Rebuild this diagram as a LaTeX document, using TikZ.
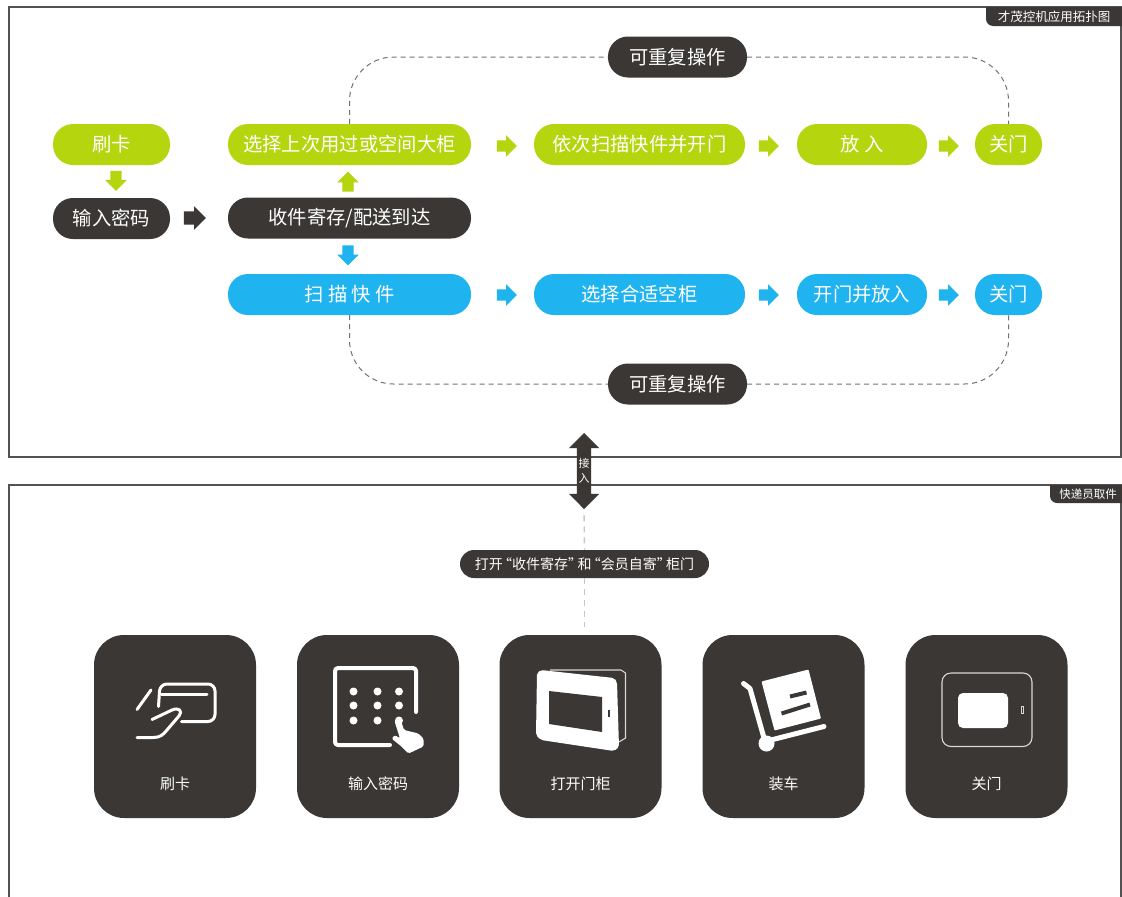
\documentclass[tikz,border=0pt]{standalone}
\usepackage{fontspec}
\setmainfont{Noto Sans CJK SC}
\usetikzlibrary{positioning, shapes.arrows}

\definecolor{limeg}{HTML}{B5D50F}
\definecolor{skyb}{HTML}{1FB4F0}
\definecolor{darkg}{HTML}{3A3735}

\begin{document}
\begin{tikzpicture}[x=1pt, y=-1pt]
	\tikzset{
		panel/.style={draw=black!68, line width=1.4pt},
		pill/.style={rounded corners=20pt, minimum height=41pt, inner sep=0pt, text=white, font=\fontsize{19.3}{21}\selectfont},
		limepill/.style={pill, fill=limeg},
		skypill/.style={pill, fill=skyb},
		darkpill/.style={pill, fill=darkg},
		blockarrow/.style={single arrow, single arrow head extend=5pt, single arrow head indent=0pt, inner sep=5.5pt, minimum height=20pt, minimum width=0pt},
		limearrow/.style={blockarrow, fill=limeg},
		skyarrow/.style={blockarrow, fill=skyb},
		darkarrow/.style={blockarrow, fill=darkg, inner sep=6.5pt, minimum height=22pt},
		repeatline/.style={draw=black!55, line width=1pt, dash pattern=on 5pt off 4pt, rounded corners=44pt},
		lightdash/.style={draw=black!22, line width=1.4pt, dash pattern=on 6pt off 5pt},
		iconbox/.style={fill=darkg, rounded corners=30pt, minimum width=162pt, minimum height=183pt, inner sep=0pt},
		iconlabel/.style={text=white, inner sep=0pt, font=\fontsize{15}{17}\selectfont},
		tabtext/.style={text=white, inner sep=0pt},
		iconline/.style={draw=white, line width=3pt, line cap=round, line join=round},
		thinline/.style={draw=white!85!black, line width=1.1pt}
	}

	\useasboundingbox (0,0) rectangle (1122,897);
	\fill[white] (0,0) rectangle (1122,897);

	\draw[panel] (9,7) rectangle (1121,457);
	\draw[panel] (9,897) -- (9,485) -- (1121,485) -- (1121,897);
	\fill[darkg, rounded corners=7pt] (986,7) -- (986,26) [sharp corners] -- (1122,26) -- (1122,7) -- cycle;
	\fill[darkg, rounded corners=7pt] (1050,485) -- (1050,503) [sharp corners] -- (1122,503) -- (1122,485) -- cycle;
	\node[tabtext, font=\fontsize{12.5}{14}\selectfont] (toptab) at (1054,16.5) {才茂控机应用拓扑图};
	\node[tabtext, font=\fontsize{11.5}{13}\selectfont] (lowtab) at (1088,494) {快递员取件};

	\node[limepill, minimum width=117pt] (swipe) at (111.5,144.5) {刷卡};
	\node[darkpill, minimum width=117pt] (code) at (111.5,218.5) {输入密码};
	\node[limepill, minimum width=243pt] (pick) at (349.5,144.5) {选择上次用过或空间大柜};
	\node[darkpill, minimum width=243pt] (arrive) at (349.5,218) {收件寄存/配送到达};
	\node[skypill, minimum width=243pt] (scan) at (349.5,294.5) {扫 描 快 件};

	\node[limepill, minimum width=211pt] (open) at (639.5,144.5) {依次扫描快件并开门};
	\node[limepill, minimum width=130pt] (put) at (862,144.5) {放 入};
	\node[limepill, minimum width=67pt] (shut) at (1008.5,144.5) {关门};
	\node[skypill, minimum width=211pt] (choose) at (639.5,294.5) {选择合适空柜};
	\node[skypill, minimum width=130pt] (load) at (862,294.5) {开门并放入};
	\node[skypill, minimum width=67pt] (close) at (1008.5,294.5) {关门};

	\node[darkpill, minimum width=139pt] (againtop) at (677.5,57) {可重复操作};
	\node[darkpill, minimum width=139pt] (againlow) at (677.5,384) {可重复操作};

	\draw[repeatline] (pick.north) |- (againtop.west);
	\draw[repeatline] (againtop.east) -| (shut.north);
	\draw[repeatline] (scan.south) |- (againlow.west);
	\draw[repeatline] (againlow.east) -| (close.south);

	\node[limearrow, shape border rotate=270] (a1) at (116,178) {};
	\node[limearrow, shape border rotate=90] (a2) at (348,184.5) {};
	\node[skyarrow, shape border rotate=270] (a3) at (348,252.5) {};
	\node[darkarrow] (a4) at (191.5,218) {};
	\foreach \ax/\nm in {504/b1, 766/b2, 946/b3} {
		\node[limearrow] (\nm) at (\ax,146) {};
	}
	\foreach \ax/\nm in {504/c1, 766/c2, 946/c3} {
		\node[skyarrow] (\nm) at (\ax,295) {};
	}

	\node[double arrow, double arrow head extend=8pt, double arrow head indent=0pt, inner sep=7pt, minimum width=0pt, minimum height=76pt, shape border rotate=90, fill=darkg] (link) at (584,471) {};
	\node[tabtext, align=center, font=\fontsize{11}{15}\selectfont] (linktext) at (link) {接\\入};

	\node[darkpill, rounded corners=14pt, minimum width=249pt, minimum height=28pt, font=\fontsize{14}{16}\selectfont] (doors) at (584.5,564) {打开\kern-4.7pt“收件寄存”\kern-4.7pt和\kern-4.7pt“会员自寄”\kern-4.7pt柜门};

	\foreach \cx/\nm/\txt in {175/cardbox/刷卡, 378/keybox/输入密码, 580.5/doorbox/打开门柜, 783.5/cartbox/装车, 986.5/shutbox/关门} {
		\node[iconbox] (\nm) at (\cx,726.5) {};
		\node[iconlabel] (\nm text) at (\cx,783.5) {\txt};
	}

	\draw[lightdash, shorten <=6pt] (link.south) -- (doors.north);
	\draw[lightdash, shorten >=8pt] (doors.south) -- (doors.south |- doorbox.north);

	% card
	\draw[iconline, rounded corners=7pt] (181.5,721.5) -- (215,721.5) -- (215,684) -- (160,684) [sharp corners] -- (158.5,706.5);
	\draw[iconline] (161.5,694) -- (207,694);
	\draw[iconline] (151,690) -- (137,709.5);
	\draw[iconline] (152,719.5) -- (172,710) .. controls (179,707) and (183,711) .. (179,716) -- (167,730) .. controls (163,735) and (160,737.5) .. (153,737.5) -- (137,737.5);

	% keypad
	\draw[iconline, line width=4pt, rounded corners=3pt] (416,712) -- (416,668) -- (335,668) -- (335,745) -- (390,745);
	\foreach \kx in {353.5, 377.5, 399} {
		\foreach \ky in {691.5, 705.5, 720.5} {
			\fill[white] (\kx,\ky) circle (4pt);
		}
	}
	\fill[white, rounded corners=1.5pt] (394.5,721) -- (400,717.5) -- (404,730) -- (418.5,733.5) -- (423.5,738.5) -- (423.5,746.5) -- (408.5,753.5) -- (401.5,746.5) -- (391.5,738.5) -- (395,735) -- (400,738.5) -- cycle;

	% open door
	\draw[thinline] (550,670) -- (621,670) -- (625.5,673) -- (625.5,738) -- (619,742);
	\fill[white, rounded corners=2pt] (537,673) -- (541,670) -- (614,678) -- (617,682) -- (619,747) -- (614,751) -- (541,740) -- (536,735) -- cycle;
	\fill[darkg] (549,691) -- (602,697) -- (602,732) -- (549,724) -- cycle;
	\fill[darkg] (608,710) rectangle (610,717);

	% cart
	\fill[white, rounded corners=1pt] (761.5,681.5) -- (808.5,669.5) -- (821,718.5) -- (774.5,730.5) -- cycle;
	\draw[darkg, line width=4pt] (790,696.5) -- (806.5,692.5);
	\draw[darkg, line width=4pt] (781.5,713.5) -- (810,704.5);
	\draw[iconline, line width=5pt] (743.5,683.5) -- (750,688.5) -- (765,741.5) -- (824,726.5);
	\fill[white] (766.5,743.5) circle (8pt);

	% closed door
	\draw[thinline, rounded corners=9pt] (942,673) rectangle (1032,746.5);
	\fill[white, rounded corners=5pt] (958,693) rectangle (1008,728);
	\draw[thinline, line width=0.8pt] (1021,706) rectangle (1023,713);
\end{tikzpicture}
\end{document}
